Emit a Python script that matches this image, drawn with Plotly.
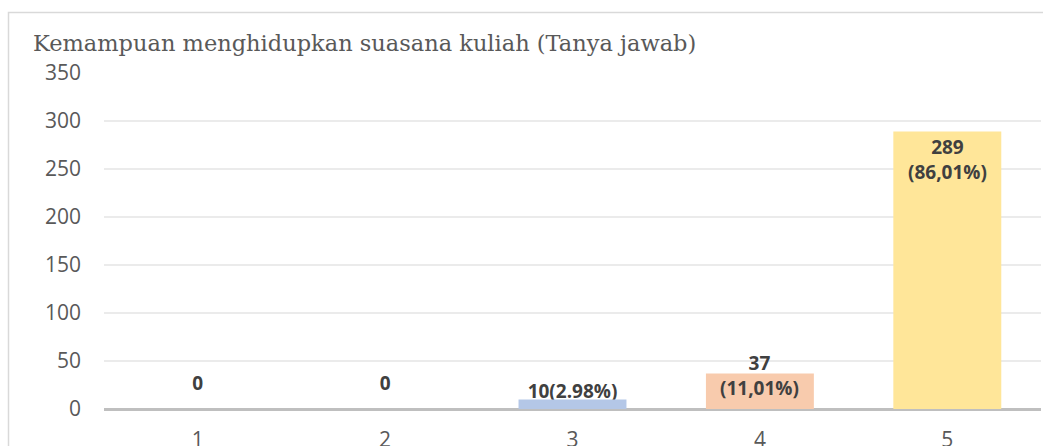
import plotly.graph_objects as go

# ---- data ----
categories = ["1", "2", "3", "4", "5"]
counts = [0, 0, 10, 37, 289]
label_texts = ["0", "0", "10(2.98%)", "37<br>(11,01%)", "289<br>(86,01%)"]
bar_colors = ["#B4C7E7", "#B4C7E7", "#B4C7E7", "#F8CBAD", "#FFE699"]
title_text = "Kemampuan menghidupkan suasana kuliah (Tanya jawab)"
y_ticks = [0, 50, 100, 150, 200, 250, 300, 350]

# ---- layout geometry (page body margin removed in post_script) ----
W, H = 1043, 446
ML, MR, MT, MB = 104, 2, 73, 37
PW, PH = W - ML - MR, H - MT - MB
YMAX = 350
px_per_unit = PH / YMAX

# label offsets in pixels (vertical centre relative to bar top)
label_shift_px = [24, 24, 6, -2, -28]

fig = go.Figure()

# labels that sit behind the bars (drawn on main axis, below the overlay axis)
behind = [0, 1, 2]
fig.add_trace(go.Scatter(
    x=[categories[i] for i in behind],
    y=[counts[i] + label_shift_px[i] / px_per_unit for i in behind],
    text=[label_texts[i] for i in behind],
    mode="text",
    textposition="middle center",
    textfont=dict(family="Open Sans", size=19, color="#404040", weight="bold"),
    hoverinfo="skip",
    showlegend=False,
    xaxis="x", yaxis="y",
))

fig.add_trace(go.Bar(
    x=categories, y=counts,
    marker=dict(color=bar_colors, line=dict(width=0)),
    width=0.576,
    hoverinfo="x+y",
    showlegend=False,
    xaxis="x", yaxis="y2",
))

for i in [3, 4]:
    fig.add_annotation(
        x=i, y=counts[i], xref="x", yref="y",
        text=label_texts[i], showarrow=False,
        yanchor="middle", yshift=label_shift_px[i],
        font=dict(family="Open Sans", size=19, color="#404040", weight="bold"),
    )

# chart border (partially outside view)
fig.add_shape(
    type="rect", xref="paper", yref="paper",
    x0=(8.5 - ML) / PW, x1=1.3,
    y0=-0.5, y1=(H - MB - 12.5) / PH,
    line=dict(color="#D9D9D9", width=1.5), fillcolor="rgba(0,0,0,0)",
    layer="below",
)

fig.update_layout(
    width=W, height=H,
    margin=dict(l=ML, r=MR, t=MT, b=MB, autoexpand=False),
    paper_bgcolor="white", plot_bgcolor="white",
    title=dict(
        text=title_text, x=33 / W, xref="container", xanchor="left",
        y=1 - 43 / H, yref="container", yanchor="middle",
        font=dict(family="DejaVu Serif", size=22.5, color="#595959"),
    ),
    xaxis=dict(
        type="category", range=[-0.5, 4.5], automargin=False,
        showgrid=False, showline=False, zeroline=False,
        ticks="", ticklabelstandoff=16,
        tickfont=dict(family="Open Sans", size=21, color="#595959"),
        fixedrange=True,
    ),
    yaxis=dict(
        range=[0, YMAX], tickvals=y_ticks, automargin=False,
        showgrid=True, gridcolor="#EBEBEB", gridwidth=1.5,
        zeroline=True, zerolinecolor="#BFBFBF", zerolinewidth=3,
        showline=False, ticks="", ticklabelstandoff=22,
        tickfont=dict(family="Open Sans", size=21, color="#595959"),
        fixedrange=True,
    ),
    yaxis2=dict(
        range=[0, YMAX], overlaying="y", visible=False, automargin=False,
        showgrid=False, zeroline=False, fixedrange=True,
    ),
    bargap=0.424,
)

fig.write_html(
    "out.html",
    config={"displayModeBar": False},
    post_script=(
        "document.body.style.margin='0';"
        "document.documentElement.style.overflow='hidden';"
        "document.body.style.overflow='hidden';"
    ),
)
